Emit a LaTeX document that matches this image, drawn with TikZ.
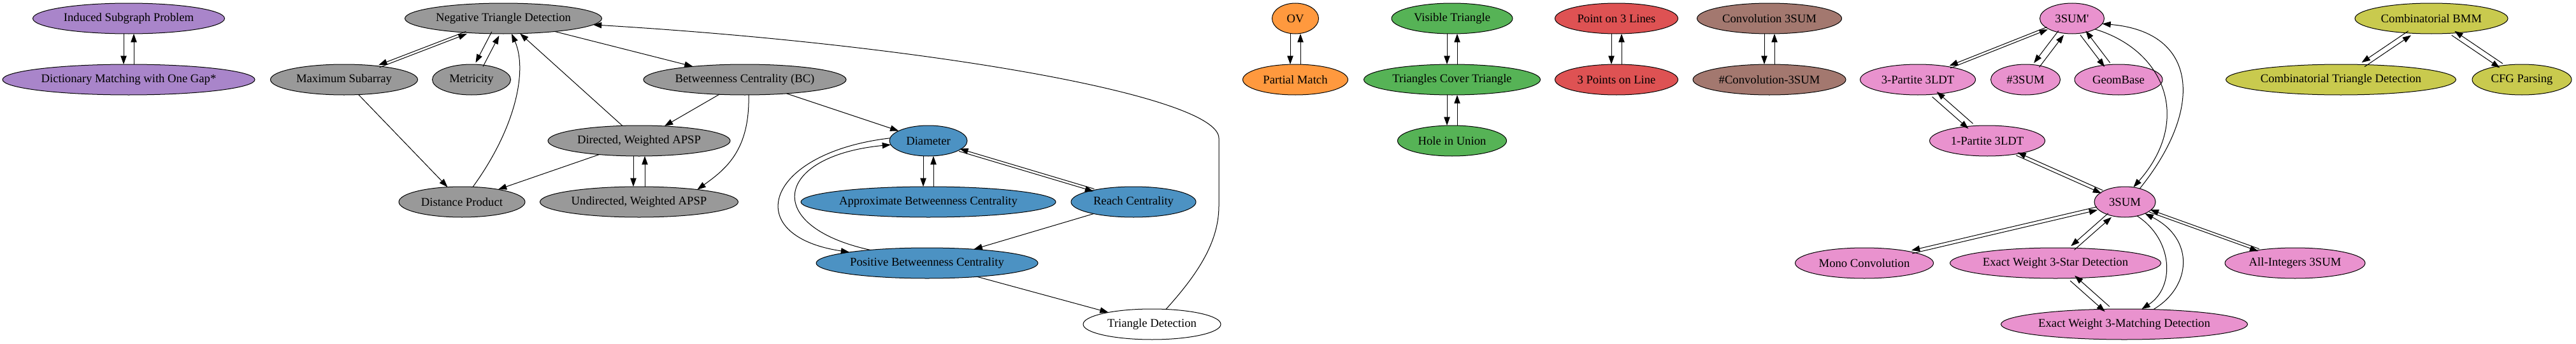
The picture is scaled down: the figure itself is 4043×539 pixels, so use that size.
\documentclass[tikz,border=0pt]{standalone}
\usepackage{fontspec}
\newfontfamily\gv{Liberation Serif}
\usetikzlibrary{shapes.geometric, arrows.meta, calc}
\definecolor{cpurple}{HTML}{A985CA}
\definecolor{cgray}{HTML}{999999}
\definecolor{cblue}{HTML}{4C92C3}
\definecolor{corange}{HTML}{FF993E}
\definecolor{cgreen}{HTML}{56B356}
\definecolor{cred}{HTML}{DE5253}
\definecolor{cbrown}{HTML}{A3786F}
\definecolor{cpink}{HTML}{E992CE}
\definecolor{colive}{HTML}{C9CA4E}
\tikzset{
  nd/.style={ellipse, draw=black, line width=0.75pt, inner sep=0pt, outer sep=0pt, minimum height=36pt},
  lbl/.style={font=\gv\fontsize{14}{16}\selectfont, inner sep=0pt, text=black},
  arr/.style={draw=black, line width=0.75pt, -{Triangle[length=10pt, width=7pt]}}
}
\newcommand\gn[5]{\node[nd, fill=#2, minimum width=#3*0.75pt, label={[lbl]center:{#5}}] (#1) at (#4) {};}
\newcommand\bidir[3]{%
  \draw[arr, transform canvas={shift={($(#2)!#1!-90:(#3)-(#2)$)}}] (#2) -- (#3);
  \draw[arr, transform canvas={shift={($(#3)!#1!-90:(#2)-(#3)$)}}] (#3) -- (#2);}
\begin{document}
\begin{tikzpicture}[x=0.75pt,y=-0.75pt]
\useasboundingbox (0,0) rectangle (4043,539);
% purple
\gn{isp}{cpurple}{301}{202,29}{Induced Subgraph Problem}
\gn{dm}{cpurple}{396}{202,125}{Dictionary Matching with One Gap*}
% gray
\gn{ntd}{cgray}{309}{790,29}{Negative Triangle Detection}
\gn{ms}{cgray}{231}{540,125}{Maximum Subarray}
\gn{met}{cgray}{123}{740,125}{Metricity}
\gn{bc}{cgray}{318}{1169,125}{Betweenness Centrality (BC)}
\gn{dap}{cgray}{286}{1003,221}{Directed, Weighted APSP}
\gn{dp}{cgray}{198}{725,317}{Distance Product}
\gn{uap}{cgray}{311}{1003,317}{Undirected, Weighted APSP}
% blue
\gn{diam}{cblue}{122}{1457,221}{Diameter}
\gn{abc}{cblue}{400}{1457,317}{Approximate Betweenness Centrality}
\gn{rc}{cblue}{196}{1779,317}{Reach Centrality}
\gn{pbc}{cblue}{348}{1455,413}{Positive Betweenness Centrality}
\gn{td}{white}{216}{1808,509}{Triangle Detection}
% orange
\gn{ov}{corange}{73}{2033,29}{OV}
\gn{pm}{corange}{165}{2033,125}{Partial Match}
% green
\gn{vt}{cgreen}{190}{2279,29}{Visible Triangle}
\gn{tct}{cgreen}{277}{2279,125}{Triangles Cover Triangle}
\gn{hu}{cgreen}{171}{2279,221}{Hole in Union}
% red
\gn{ptl}{cred}{193}{2537,29}{Point on 3 Lines}
\gn{tpl}{cred}{193}{2537,125}{3 Points on Line}
% brown
\gn{cts}{cbrown}{227}{2777,29}{Convolution 3SUM}
\gn{ncts}{cbrown}{240}{2777,125}{\#Convolution-3SUM}
% pink
\gn{sp}{cpink}{101}{3252,29}{3SUM'}
\gn{tp}{cpink}{181}{3010,125}{3-Partite 3LDT}
\gn{ns}{cpink}{109}{3179,125}{\#3SUM}
\gn{gb}{cpink}{138}{3325,125}{GeomBase}
\gn{op}{cpink}{181}{3119,221}{1-Partite 3LDT}
\gn{s3}{cpink}{96}{3335,317}{3SUM}
\gn{mc}{cpink}{217}{2926,413}{Mono Convolution}
\gn{es}{cpink}{331}{3226,413}{Exact Weight 3-Star Detection}
\gn{ai}{cpink}{220}{3602,413}{All-Integers 3SUM}
\gn{em}{cpink}{387}{3334,509}{Exact Weight 3-Matching Detection}
% olive
\gn{cb}{colive}{240}{3816,29}{Combinatorial BMM}
\gn{ct}{colive}{361}{3674,125}{Combinatorial Triangle Detection}
\gn{cfg}{colive}{156}{3958,125}{CFG Parsing}

% edges
\bidir{6pt}{isp}{dm}
\bidir{1.5pt}{ntd}{ms}
\bidir{4.9pt}{ntd}{met}
\draw[arr] (ms) -- (dp);
\draw[arr] (dp.54) .. controls (810,200) and (828,110) .. ([xshift=9.75pt]ntd.south);
\draw[arr] (dap) -- (ntd);
\draw[arr] (ntd) -- (bc);
\draw[arr] (bc) -- (dap);
\draw[arr] ([xshift=4.5pt]bc.south) .. controls (1177,235) and (1140,265) .. (uap.12);
\draw[arr] (bc) -- (diam);
\draw[arr] (dap) -- (dp);
\bidir{6.75pt}{dap}{uap}
\bidir{6pt}{diam}{abc}
\bidir{1.5pt}{diam}{rc}
\draw[arr] (diam.176) .. controls (1200,240) and (1160,370) .. (pbc.172);
\draw[arr] (pbc.167) .. controls (1195,355) and (1215,245) .. (diam.186);
\draw[arr] (rc) -- (pbc);
\draw[arr] (pbc) -- (td);
\draw[arr] (td.47) .. controls (1880,430) and (1913,380) .. (1913,323) -- (1913,217) .. controls (1913,150) and (1450,70) .. (ntd.-4);
\bidir{6pt}{ov}{pm}
\bidir{6pt}{vt}{tct}
\bidir{6pt}{tct}{hu}
\bidir{6pt}{ptl}{tpl}
\bidir{6pt}{cts}{ncts}
\bidir{1.5pt}{sp}{tp}
\bidir{4pt}{sp}{ns}
\bidir{4pt}{sp}{gb}
\draw[arr] (sp.-25) .. controls (3400,80) and (3440,190) .. (s3.60);
\draw[arr] (s3.42) .. controls (3460,170) and (3450,50) .. (sp.-10);
\bidir{4pt}{tp}{op}
\bidir{1.9pt}{op}{s3}
\bidir{1.9pt}{s3}{mc}
\bidir{3pt}{s3}{es}
\bidir{1.5pt}{s3}{ai}
\bidir{4pt}{es}{em}
\draw[arr] (s3.-49) .. controls (3410,375) and (3415,450) .. (em.41);
\draw[arr] (em.27) .. controls (3440,450) and (3445,375) .. (s3.-30);
\bidir{3pt}{cb}{ct}
\bidir{3pt}{cb}{cfg}
\end{tikzpicture}
\end{document}
